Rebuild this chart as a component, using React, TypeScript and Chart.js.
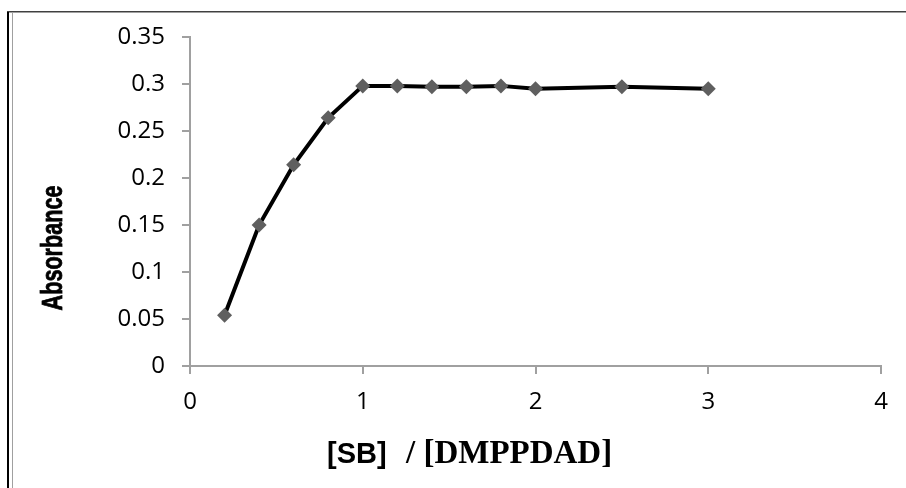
import React, { useEffect, useRef } from "react";
import { Chart, registerables } from "chart.js";

Chart.register(...registerables);

const X_VALUES = [0.2, 0.4, 0.6, 0.8, 1.0, 1.2, 1.4, 1.6, 1.8, 2.0, 2.5, 3.0];
const ABSORBANCE = [0.054, 0.15, 0.214, 0.264, 0.298, 0.298, 0.297, 0.297, 0.298, 0.295, 0.297, 0.295];
const X_TICK_LABELS = ["0", "1", "2", "3", "4"];
const Y_TICK_LABELS = ["0", "0.05", "0.1", "0.15", "0.2", "0.25", "0.3", "0.35"];
const X_TITLE_A = "[SB]";
const X_TITLE_B = "/ [DMPPDAD]";
const Y_TITLE = "Absorbance";

const W = 906;
const H = 488;

const titlePlugin = {
  id: "customTitles",
  afterDraw(chart: any) {
    const ctx = chart.ctx as CanvasRenderingContext2D;
    ctx.save();
    ctx.fillStyle = "#000";
    ctx.strokeStyle = "#000";
    // Y title (rotated, condensed)
    ctx.save();
    ctx.translate(62, 248);
    ctx.rotate(-Math.PI / 2);
    ctx.scale(0.72, 1);
    ctx.font = "bold 30px 'Liberation Sans', Arial, sans-serif";
    ctx.textAlign = "center";
    ctx.textBaseline = "alphabetic";
    ctx.lineWidth = 0.8;
    ctx.fillText(Y_TITLE, 0, 0);
    ctx.strokeText(Y_TITLE, 0, 0);
    ctx.restore();
    // X title
    ctx.textBaseline = "alphabetic";
    ctx.textAlign = "left";
    ctx.font = "bold 29px 'Liberation Sans', Arial, sans-serif";
    ctx.fillText(X_TITLE_A, 327, 463);
    ctx.font = "bold 33px 'Liberation Serif', 'Times New Roman', serif";
    ctx.fillText(X_TITLE_B, 406, 463);
    ctx.restore();
  },
};

export default function App() {
  const ref = useRef<HTMLCanvasElement | null>(null);
  useEffect(() => {
    if (!ref.current) return;
    const tickFont = { family: "'Open Sans', sans-serif", size: 24 };
    const chart = new Chart(ref.current, {
      type: "line",
      data: {
        datasets: [
          {
            data: X_VALUES.map((x, i) => ({ x, y: ABSORBANCE[i] })),
            borderColor: "#000000",
            borderWidth: 4,
            pointStyle: "rectRot",
            pointRadius: 7.5,
            pointBackgroundColor: "#5f5f5f",
            pointBorderColor: "#5f5f5f",
            pointBorderWidth: 0,
            tension: 0,
          },
        ],
      },
      options: {
        animation: false,
        responsive: false,
        layout: { padding: { left: 0, right: 25, top: 37, bottom: 0 } },
        plugins: { legend: { display: false }, tooltip: { enabled: false } },
        scales: {
          x: {
            type: "linear",
            min: 0,
            max: 4,
            afterFit: (s: any) => {
              s.height = 122;
            },
            ticks: {
              stepSize: 1,
              color: "#000",
              font: tickFont,
              padding: 14,
              maxRotation: 0,
              callback: (_v: any, i: number) => X_TICK_LABELS[i],
            },
            grid: {
              drawOnChartArea: false,
              drawTicks: true,
              tickLength: 8,
              color: "#a0a0a0",
              lineWidth: 2,
            },
            border: { color: "#a0a0a0", width: 2 },
          },
          y: {
            type: "linear",
            min: 0,
            max: 0.35,
            afterFit: (s: any) => {
              s.width = 190;
            },
            ticks: {
              stepSize: 0.05,
              color: "#000",
              font: tickFont,
              padding: 17,
              callback: (_v: any, i: number) => Y_TICK_LABELS[i],
            },
            grid: {
              drawOnChartArea: false,
              drawTicks: true,
              tickLength: 8,
              color: "#a0a0a0",
              lineWidth: 2,
            },
            border: { color: "#a0a0a0", width: 2 },
          },
        },
      },
      plugins: [titlePlugin],
    });
    return () => chart.destroy();
  }, []);

  return (
    <div style={{ position: "absolute", left: 0, top: 0, width: W, height: H, background: "#fff", overflow: "hidden" }}>
      <canvas ref={ref} width={W} height={H} style={{ position: "absolute", left: 0, top: 0, width: W, height: H }} />
      <div style={{ position: "absolute", left: 7, top: 11, width: 2, height: H - 11, background: "#000" }} />
      <div style={{ position: "absolute", left: 7, top: 11, width: W - 7, height: 1, background: "#404040" }} />
      <div style={{ position: "absolute", left: 9, top: 12, width: W - 9, height: 1, background: "#a0a0a0" }} />
      <div style={{ position: "absolute", left: 12, top: 13, width: 1, height: H - 13, background: "#a0a0a0" }} />
    </div>
  );
}
